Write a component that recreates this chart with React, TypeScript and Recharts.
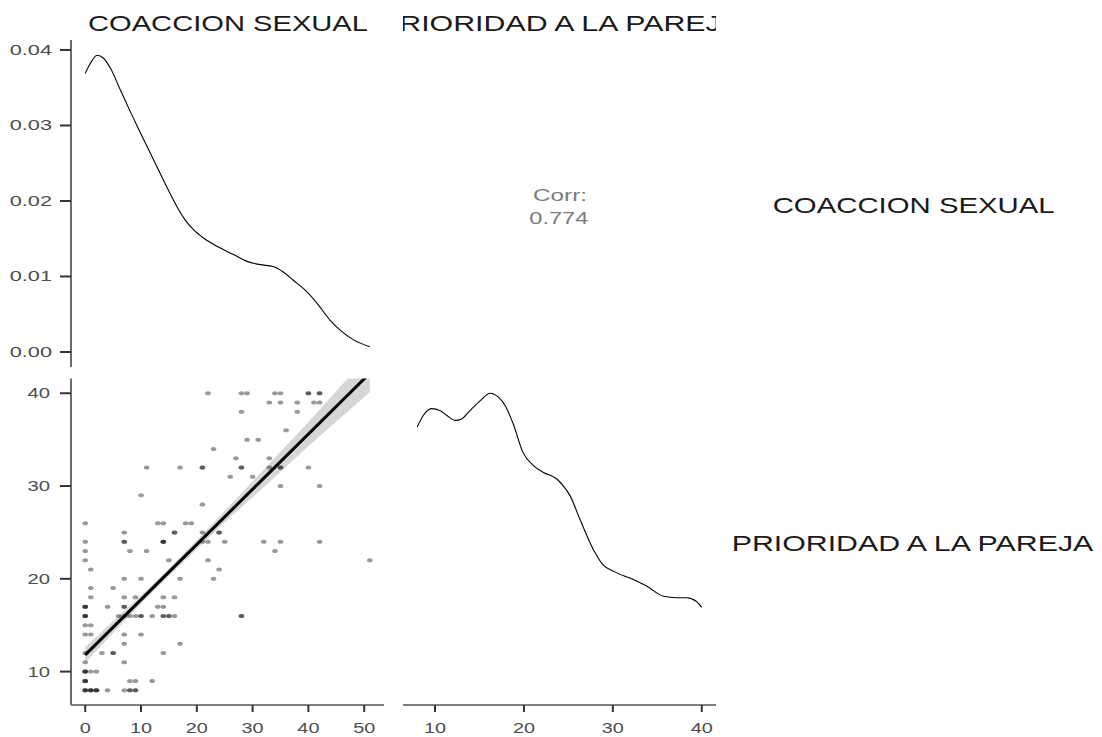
import React from 'react';
import { ComposedChart, LineChart, Line, Scatter, Area, XAxis, YAxis } from 'recharts';

const FONT = '"Liberation Sans", Arial, Helvetica, sans-serif';

// variable names / labels
const varNames = ['COACCION SEXUAL', 'PRIORIDAD A LA PAREJA'];
const corrLabel = 'Corr:';
const corrValue = '0.774';

// tick values
const densityTicks = [0, 0.01, 0.02, 0.03, 0.04];
const coaccionTicks = [0, 10, 20, 30, 40, 50];
const prioridadTicks = [10, 20, 30, 40];

// density of COACCION SEXUAL (diagonal, top-left)
const coaccionDensX = [0, 0.9, 2.1, 3.3, 4.5, 6.3, 8.1, 9.9, 11.7, 13.4, 15.2, 16.4, 17.9, 19.4, 21.2, 23.6, 26.6, 29, 32, 33.8, 35.5, 37.3, 39.7, 41.5, 43.9, 45.7, 48.1, 51];
const coaccionDensY = [0.0369, 0.0382, 0.0393, 0.0389, 0.0376, 0.0347, 0.0318, 0.029, 0.0263, 0.0237, 0.021, 0.0193, 0.0175, 0.0162, 0.0151, 0.014, 0.0129, 0.012, 0.0115, 0.0113, 0.0106, 0.0095, 0.008, 0.0065, 0.0042, 0.0029, 0.0016, 0.0007];

// density of PRIORIDAD A LA PAREJA (diagonal, bottom-right)
const prioridadDensX = [8, 8.7, 9.6, 10.6, 11.3, 12.3, 13, 13.9, 15.1, 16.2, 17.1, 17.9, 18.8, 19.9, 21.1, 22.2, 23.7, 24.4, 25.2, 26.3, 27.8, 28.9, 30.1, 32.3, 33.8, 35.7, 37.2, 38.3, 39.4, 40];
const prioridadDensY = [0.0359, 0.0375, 0.0384, 0.0381, 0.0375, 0.0368, 0.037, 0.0381, 0.0395, 0.0405, 0.04, 0.0388, 0.0363, 0.0324, 0.0306, 0.0297, 0.0288, 0.0279, 0.0265, 0.0233, 0.0192, 0.0171, 0.0162, 0.0151, 0.0142, 0.0128, 0.0126, 0.0126, 0.0121, 0.0113];

// scatter: COACCION SEXUAL (x) vs PRIORIDAD A LA PAREJA (y)
const scatterCoaccion = [
  22, 28, 29, 34, 35, 40, 40, 42, 42,
  33, 35, 38, 41, 42,
  28, 38,
  36,
  29, 31,
  23,
  27, 33,
  11, 17, 21, 21, 28, 28, 33, 35, 35, 40,
  26, 30,
  35, 42,
  10,
  21,
  0, 13, 14, 18, 19,
  7, 16, 16, 21, 24, 24,
  0, 7, 7, 14, 14, 14, 21, 22, 25, 32, 35, 42,
  0, 8, 11, 34,
  0, 15, 22, 51,
  1, 24,
  7, 10, 17, 23,
  1, 5,
  1, 7, 9, 14, 16,
  0, 0, 0, 4, 7, 7, 13, 14,
  0, 0, 0, 6, 7, 8, 9, 10, 10, 12, 14, 14, 15, 15, 16, 28, 28,
  0, 1,
  0, 1, 7, 10,
  7, 17,
  0, 3, 5, 5, 14,
  0, 7,
  0, 0, 0, 1, 2,
  0, 0, 0, 8, 9, 12,
  0, 0, 0, 1, 1, 1, 2, 2, 2, 4, 7, 8, 8, 9, 9,
];
const scatterPrioridad = [
  40, 40, 40, 40, 40, 40, 40, 40, 40,
  39, 39, 39, 39, 39,
  38, 38,
  36,
  35, 35,
  34,
  33, 33,
  32, 32, 32, 32, 32, 32, 32, 32, 32, 32,
  31, 31,
  30, 30,
  29,
  28,
  26, 26, 26, 26, 26,
  25, 25, 25, 25, 25, 25,
  24, 24, 24, 24, 24, 24, 24, 24, 24, 24, 24, 24,
  23, 23, 23, 23,
  22, 22, 22, 22,
  21, 21,
  20, 20, 20, 20,
  19, 19,
  18, 18, 18, 18, 18,
  17, 17, 17, 17, 17, 17, 17, 17,
  16, 16, 16, 16, 16, 16, 16, 16, 16, 16, 16, 16, 16, 16, 16, 16, 16,
  15, 15,
  14, 14, 14, 14,
  13, 13,
  12, 12, 12, 12, 12,
  11, 11,
  10, 10, 10, 10, 10,
  9, 9, 9, 9, 9, 9,
  8, 8, 8, 8, 8, 8, 8, 8, 8, 8, 8, 8, 8, 8, 8,
];

// linear fit and its confidence band
const fitX = [0, 51];
const fitY = [11.8, 42.15];
const bandX = [0, 5, 10, 15, 20, 25, 30, 35, 40, 45, 51];
const bandLower = [10.95, 14.15, 17.3, 20.3, 23.25, 26.1, 28.8, 31.5, 34.3, 36.95, 40.1];
const bandUpper = [12.65, 15.45, 18.2, 21.1, 24.15, 27.3, 30.5, 33.7, 36.9, 40.25, 44.2];

const coaccionDens = coaccionDensX.map((x, i) => ({ x, y: coaccionDensY[i] }));
const prioridadDens = prioridadDensX.map((x, i) => ({ x, y: prioridadDensY[i] }));
const scatterData = scatterCoaccion.map((x, i) => ({ x, y: scatterPrioridad[i] }));
const fitData = fitX.map((x, i) => ({ x, y: fitY[i] }));
const bandData = bandX.map((x, i) => ({ x, band: [bandLower[i], bandUpper[i]] }));

const TICK_COLOR = '#4d4d4d';

const makeYTick = (sx: number, fmt?: (v: number) => string) => (props: any) => {
  const { x, y, payload } = props;
  return (
    <text
      transform={`translate(${x},${y}) scale(${sx},1)`}
      textAnchor="end"
      dy="0.355em"
      fontSize={14}
      fill={TICK_COLOR}
      fontFamily={FONT}
    >
      {fmt ? fmt(payload.value) : payload.value}
    </text>
  );
};

const makeXTick = (sx: number) => (props: any) => {
  const { x, y, payload } = props;
  return (
    <text
      transform={`translate(${x},${y}) scale(${sx},1)`}
      textAnchor="middle"
      dy="0.71em"
      fontSize={14}
      fill={TICK_COLOR}
      fontFamily={FONT}
    >
      {payload.value}
    </text>
  );
};

const Dot = (props: any) => {
  const { cx, cy } = props;
  if (cx == null || cy == null) return null;
  return <ellipse cx={cx} cy={cy} rx={2.8} ry={2.0} fill="#000" fillOpacity={0.4} />;
};

const axisLineY = { stroke: '#6b6b6b', strokeWidth: 2 };
const axisLineX = { stroke: '#555', strokeWidth: 1.4 };
const tickLineStyle = { stroke: '#333', strokeWidth: 2 };

export default function App() {
  return (
    <div
      style={{
        position: 'absolute',
        left: 0,
        top: 0,
        width: 1102,
        height: 737,
        background: '#fff',
        overflow: 'hidden',
        fontFamily: FONT,
      }}
    >
      {/* top-left: density of COACCION SEXUAL */}
      <div style={{ position: 'absolute', left: 0, top: 0 }}>
        <LineChart width={400} height={370} data={coaccionDens} margin={{ top: 40, right: 16, bottom: 3, left: 0 }}>
          <XAxis type="number" dataKey="x" domain={[-2.55, 53.55]} hide allowDataOverflow />
          <YAxis
            type="number"
            width={71}
            domain={[-0.00199, 0.04132]}
            ticks={densityTicks}
            allowDataOverflow
            interval={0}
            tickSize={11}
            tickMargin={8}
            axisLine={axisLineY}
            tickLine={tickLineStyle}
            tick={makeYTick(1.55, (v: number) => v.toFixed(2))}
          />
          <Line type="monotone" dataKey="y" stroke="#000" strokeWidth={1.1} dot={false} isAnimationActive={false} />
        </LineChart>
      </div>

      {/* bottom-left: scatter with linear fit */}
      <div style={{ position: 'absolute', left: 0, top: 370 }}>
        <ComposedChart width={400} height={367} margin={{ top: 8.4, right: 16, bottom: 0, left: 0 }}>
          <XAxis
            type="number"
            dataKey="x"
            domain={[-2.55, 53.55]}
            ticks={coaccionTicks}
            allowDataOverflow
            interval={0}
            height={32}
            tickSize={7}
            tickMargin={11}
            axisLine={axisLineX}
            tickLine={tickLineStyle}
            tick={makeXTick(1.42)}
          />
          <YAxis
            type="number"
            dataKey="y"
            width={71}
            domain={[6.4, 41.6]}
            ticks={prioridadTicks}
            allowDataOverflow
            interval={0}
            tickSize={11}
            tickMargin={10}
            axisLine={axisLineY}
            tickLine={tickLineStyle}
            tick={makeYTick(1.45)}
          />
          <Scatter data={scatterData} shape={Dot} isAnimationActive={false} />
          <Area
            data={bandData}
            dataKey="band"
            type="linear"
            stroke="none"
            fill="#999"
            fillOpacity={0.4}
            isAnimationActive={false}
            activeDot={false}
          />
          <Line data={fitData} dataKey="y" type="linear" stroke="#000" strokeWidth={3} dot={false} isAnimationActive={false} />
        </ComposedChart>
      </div>

      {/* bottom-right: density of PRIORIDAD A LA PAREJA */}
      <div style={{ position: 'absolute', left: 380, top: 370 }}>
        <LineChart width={360} height={367} data={prioridadDens} margin={{ top: 8.4, right: 24, bottom: 0, left: 23 }}>
          <XAxis
            type="number"
            dataKey="x"
            domain={[6.4, 41.6]}
            ticks={prioridadTicks}
            allowDataOverflow
            interval={0}
            height={32}
            tickSize={7}
            tickMargin={11}
            axisLine={axisLineX}
            tickLine={tickLineStyle}
            tick={makeXTick(1.42)}
          />
          <YAxis type="number" domain={[-0.002025, 0.042525]} hide allowDataOverflow />
          <Line type="monotone" dataKey="y" stroke="#000" strokeWidth={1.1} dot={false} isAnimationActive={false} />
        </LineChart>
      </div>

      {/* strip labels and correlation text */}
      <svg
        width={1102}
        height={737}
        style={{ position: 'absolute', left: 0, top: 0, pointerEvents: 'none' }}
        fontFamily={FONT}
      >
        <defs>
          <clipPath id="stripRight">
            <rect x={403} y={0} width={313} height={40} />
          </clipPath>
        </defs>
        <text x={88} y={30.5} fontSize={22} fill="#1a1a1a" textLength={280} lengthAdjust="spacingAndGlyphs">
          {varNames[0]}
        </text>
        <g clipPath="url(#stripRight)">
          <text x={379} y={30.5} fontSize={22} fill="#1a1a1a" textLength={362} lengthAdjust="spacingAndGlyphs">
            {varNames[1]}
          </text>
        </g>
        <text x={772.7} y={212.7} fontSize={21.5} fill="#1a1a1a" textLength={282} lengthAdjust="spacingAndGlyphs">
          {varNames[0]}
        </text>
        <text x={731.7} y={551} fontSize={21.5} fill="#1a1a1a" textLength={361.6} lengthAdjust="spacingAndGlyphs">
          {varNames[1]}
        </text>
        <text x={533} y={200.7} fontSize={17} fill="#7a7a7a" textLength={54} lengthAdjust="spacingAndGlyphs">
          {corrLabel}
        </text>
        <text x={529.3} y={224.3} fontSize={17} fill="#7a7a7a" textLength={59} lengthAdjust="spacingAndGlyphs">
          {corrValue}
        </text>
      </svg>
    </div>
  );
}
